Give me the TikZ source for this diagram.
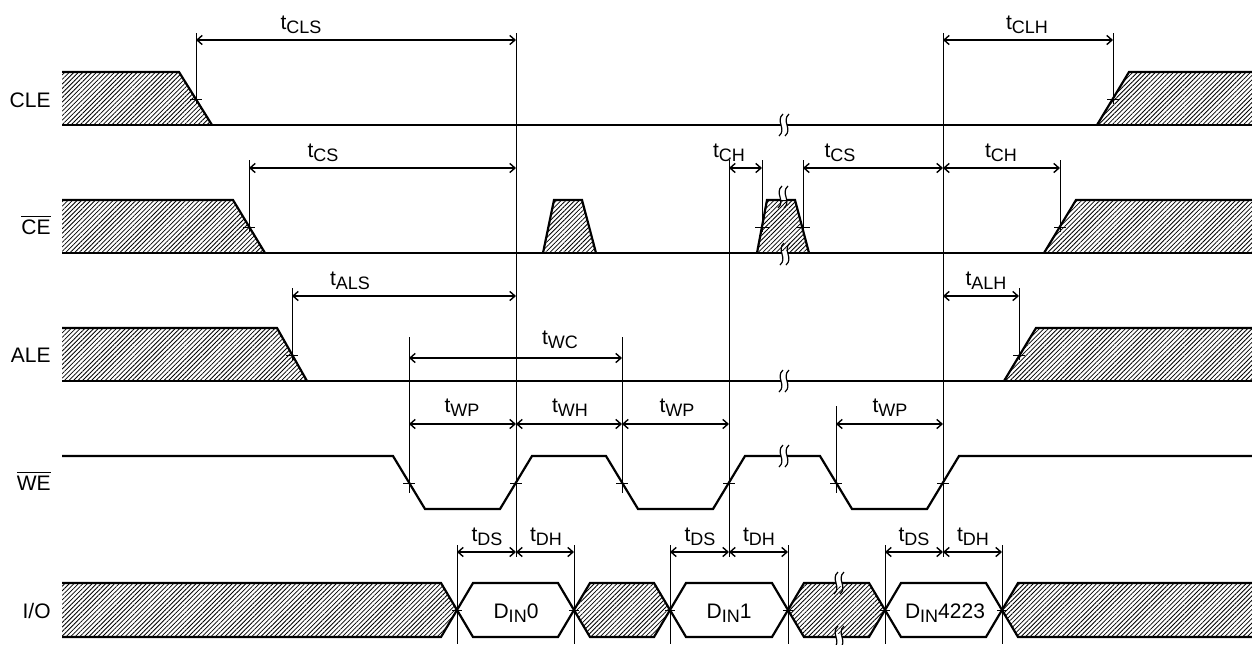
\documentclass[tikz,border=0pt]{standalone}
\usepackage{fontspec}
\setmainfont{Liberation Sans}
\usetikzlibrary{arrows.meta,patterns.meta}

\newcommand{\tsub}[2]{#1\raisebox{-2.2pt}{\fontsize{9}{10}\selectfont #2}}
\newcommand{\brk}[2]{%
  \fill[white] ({#1-3},{#2-3}) rectangle ({#1+3},{#2+3});
  \draw[line width=0.6pt] ({#1-1},{#2-11}) .. controls ({#1-9},{#2-4}) and ({#1+3},{#2+4}) .. ({#1-5},{#2+11});
  \draw[line width=0.6pt] ({#1+5},{#2-11}) .. controls ({#1-3},{#2-4}) and ({#1+9},{#2+4}) .. ({#1+1},{#2+11});}

\tikzset{
  wave/.style={line width=1.1pt, line join=miter},
  hatch/.style={pattern={Lines[angle=45,distance=1.6pt,line width=0.4pt]}},
  guide/.style={line width=0.5pt},
  span/.style={line width=0.7pt, {Straight Barb[length=2.6pt,width=4.6pt]}-{Straight Barb[length=2.6pt,width=4.6pt]}},
  lbl/.style={font=\fontsize{10.5}{12}\selectfont, inner sep=0pt, anchor=base},
  sig/.style={font=\fontsize{10.5}{12}\selectfont, inner sep=0pt, anchor=base east}
}

\begin{document}
\begin{tikzpicture}[x=0.5pt,y=-0.5pt]
\useasboundingbox (0,0) rectangle (1252,644);

\pgfmathsetmacro{\cleh}{72};  \pgfmathsetmacro{\clel}{125};
\pgfmathsetmacro{\ceh}{200};  \pgfmathsetmacro{\cel}{253};
\pgfmathsetmacro{\aleh}{328}; \pgfmathsetmacro{\alel}{381};
\pgfmathsetmacro{\weh}{456};  \pgfmathsetmacro{\wel}{509};
\pgfmathsetmacro{\ioh}{583};  \pgfmathsetmacro{\iol}{637};

% signal names
\node[sig] (ncle) at (51,107) {CLE};
\node[sig] (nce) at (51,234) {$\overline{\mbox{CE}}$};
\node[sig] (nale) at (51,362) {ALE};
\node[sig] (nwe) at (51,490) {$\overline{\mbox{WE}}$};
\node[sig] (nio) at (51,618) {I/O};

% CLE
\fill[hatch] (62,\cleh) -- (179,\cleh) -- (212,\clel) -- (62,\clel) -- cycle;
\fill[hatch] (1097,\clel) -- (1129,\cleh) -- (1252,\cleh) -- (1252,\clel) -- cycle;
\draw[wave] (62,\cleh) -- (179,\cleh) -- (212,\clel);
\draw[wave] (62,\clel) -- (1252,\clel);
\draw[wave] (1097,\clel) -- (1129,\cleh) -- (1252,\cleh);

% CE
\fill[hatch] (62,\ceh) -- (233,\ceh) -- (265,\cel) -- (62,\cel) -- cycle;
\fill[hatch] (543,\cel) -- (554,\ceh) -- (582,\ceh) -- (596,\cel) -- cycle;
\fill[hatch] (757,\cel) -- (767,\ceh) -- (795,\ceh) -- (809,\cel) -- cycle;
\fill[hatch] (1044,\cel) -- (1076,\ceh) -- (1252,\ceh) -- (1252,\cel) -- cycle;
\draw[wave] (62,\ceh) -- (233,\ceh) -- (265,\cel);
\draw[wave] (62,\cel) -- (1252,\cel);
\draw[wave] (543,\cel) -- (554,\ceh) -- (582,\ceh) -- (596,\cel);
\draw[wave] (757,\cel) -- (767,\ceh) -- (795,\ceh) -- (809,\cel);
\draw[wave] (1044,\cel) -- (1076,\ceh) -- (1252,\ceh);

% ALE
\fill[hatch] (62,\aleh) -- (277,\aleh) -- (307,\alel) -- (62,\alel) -- cycle;
\fill[hatch] (1004,\alel) -- (1036,\aleh) -- (1252,\aleh) -- (1252,\alel) -- cycle;
\draw[wave] (62,\aleh) -- (277,\aleh) -- (307,\alel);
\draw[wave] (62,\alel) -- (1252,\alel);
\draw[wave] (1004,\alel) -- (1036,\aleh) -- (1252,\aleh);

% WE
\draw[wave] (62,\weh) -- (393,\weh) -- (425,\wel) -- (500,\wel) -- (532,\weh) -- (606,\weh)
  -- (638,\wel) -- (713,\wel) -- (745,\weh) -- (820,\weh) -- (852,\wel) -- (927,\wel)
  -- (959,\weh) -- (1252,\weh);

% I/O
\fill[hatch] (62,\ioh) -- (441,\ioh) -- (457,610) -- (441,\iol) -- (62,\iol) -- cycle;
\fill[hatch] (574,610) -- (590,\ioh) -- (654,\ioh) -- (670,610) -- (654,\iol) -- (590,\iol) -- cycle;
\fill[hatch] (788,610) -- (804,\ioh) -- (869,\ioh) -- (885,610) -- (869,\iol) -- (804,\iol) -- cycle;
\fill[hatch] (1002,610) -- (1018,\ioh) -- (1252,\ioh) -- (1252,\iol) -- (1018,\iol) -- cycle;
\draw[wave] (62,\ioh) -- (441,\ioh) -- (473,\iol) -- (558,\iol) -- (590,\ioh) -- (654,\ioh)
  -- (686,\iol) -- (772,\iol) -- (804,\ioh) -- (869,\ioh) -- (901,\iol) -- (986,\iol)
  -- (1018,\ioh) -- (1252,\ioh);
\draw[wave] (62,\iol) -- (441,\iol) -- (473,\ioh) -- (558,\ioh) -- (590,\iol) -- (654,\iol)
  -- (686,\ioh) -- (772,\ioh) -- (804,\iol) -- (869,\iol) -- (901,\ioh) -- (986,\ioh)
  -- (1018,\iol) -- (1252,\iol);
\node[lbl] (d0) at (516,618) {\tsub{D}{IN}0};
\node[lbl] (d1) at (729,618) {\tsub{D}{IN}1};
\node[lbl] (d4223) at (945,618) {\tsub{D}{IN}4223};

% breaks
\brk{784}{\clel}
\brk{783}{197}
\brk{785}{254}
\brk{784}{\alel}
\brk{784}{\weh}
\brk{839}{\ioh}
\brk{839}{\iol}

% guide lines
\draw[guide] (196,33) -- (196,104);
\draw[guide] (516,33) -- (516,557);
\draw[guide] (943,33) -- (943,557);
\draw[guide] (1113,33) -- (1113,104);
\draw[guide] (249,160) -- (249,232);
\draw[guide] (729,160) -- (729,557);
\draw[guide] (762,160) -- (762,232);
\draw[guide] (803,160) -- (803,232);
\draw[guide] (1060,160) -- (1060,232);
\draw[guide] (292,288) -- (292,360);
\draw[guide] (1019,288) -- (1019,360);
\draw[guide] (409,337) -- (409,493);
\draw[guide] (622,337) -- (622,493);
\draw[guide] (836,406) -- (836,493);
\draw[guide] (457,545) -- (457,644);
\draw[guide] (574,545) -- (574,644);
\draw[guide] (670,545) -- (670,644);
\draw[guide] (788,545) -- (788,644);
\draw[guide] (885,545) -- (885,644);
\draw[guide] (1002,545) -- (1002,644);

% ticks
\draw[guide] (190,99) -- (202,99);
\draw[guide] (1107,99) -- (1119,99);
\draw[guide] (243,227) -- (255,227);
\draw[guide] (755,227) -- (769,227);
\draw[guide] (796,227) -- (810,227);
\draw[guide] (1054,227) -- (1066,227);
\draw[guide] (286,355) -- (298,355);
\draw[guide] (1013,355) -- (1025,355);
\draw[guide] (403,483) -- (415,483);
\draw[guide] (510,483) -- (522,483);
\draw[guide] (616,483) -- (628,483);
\draw[guide] (723,483) -- (735,483);
\draw[guide] (830,483) -- (842,483);
\draw[guide] (937,483) -- (949,483);
\draw[guide] (452,610) -- (462,610);
\draw[guide] (569,610) -- (579,610);
\draw[guide] (665,610) -- (675,610);
\draw[guide] (783,610) -- (793,610);
\draw[guide] (880,610) -- (890,610);
\draw[guide] (997,610) -- (1007,610);

% timing spans
\draw[span] (196,40) -- (516,40);
\node[lbl] (tcls) at (301,29) {\tsub{t}{CLS}};
\draw[span] (943,40) -- (1113,40);
\node[lbl] (tclh) at (1027,29) {\tsub{t}{CLH}};

\draw[span] (249,168) -- (516,168);
\node[lbl] (tcs1) at (323,157) {\tsub{t}{CS}};
\draw[span] (729,168) -- (762,168);
\node[lbl] (tch1) at (729,157) {\tsub{t}{CH}};
\draw[span] (803,168) -- (943,168);
\node[lbl] (tcs2) at (840,157) {\tsub{t}{CS}};
\draw[span] (943,168) -- (1060,168);
\node[lbl] (tch2) at (1001,157) {\tsub{t}{CH}};

\draw[span] (292,296) -- (516,296);
\node[lbl] (tals) at (350,285) {\tsub{t}{ALS}};
\draw[span] (943,296) -- (1019,296);
\node[lbl] (talh) at (986,285) {\tsub{t}{ALH}};

\draw[span] (409,358) -- (622,358);
\node[lbl] (twc) at (560,344) {\tsub{t}{WC}};

\draw[span] (409,424) -- (516,424);
\node[lbl] (twp1) at (462,412) {\tsub{t}{WP}};
\draw[span] (516,424) -- (622,424);
\node[lbl] (twh) at (570,412) {\tsub{t}{WH}};
\draw[span] (622,424) -- (729,424);
\node[lbl] (twp2) at (677,412) {\tsub{t}{WP}};
\draw[span] (836,424) -- (943,424);
\node[lbl] (twp3) at (890,412) {\tsub{t}{WP}};

\draw[span] (457,552) -- (516,552);
\node[lbl] (tds1) at (487,541) {\tsub{t}{DS}};
\draw[span] (516,552) -- (574,552);
\node[lbl] (tdh1) at (546,541) {\tsub{t}{DH}};
\draw[span] (670,552) -- (729,552);
\node[lbl] (tds2) at (700,541) {\tsub{t}{DS}};
\draw[span] (729,552) -- (788,552);
\node[lbl] (tdh2) at (759,541) {\tsub{t}{DH}};
\draw[span] (885,552) -- (943,552);
\node[lbl] (tds3) at (914,541) {\tsub{t}{DS}};
\draw[span] (943,552) -- (1002,552);
\node[lbl] (tdh3) at (973,541) {\tsub{t}{DH}};

\end{tikzpicture}
\end{document}
